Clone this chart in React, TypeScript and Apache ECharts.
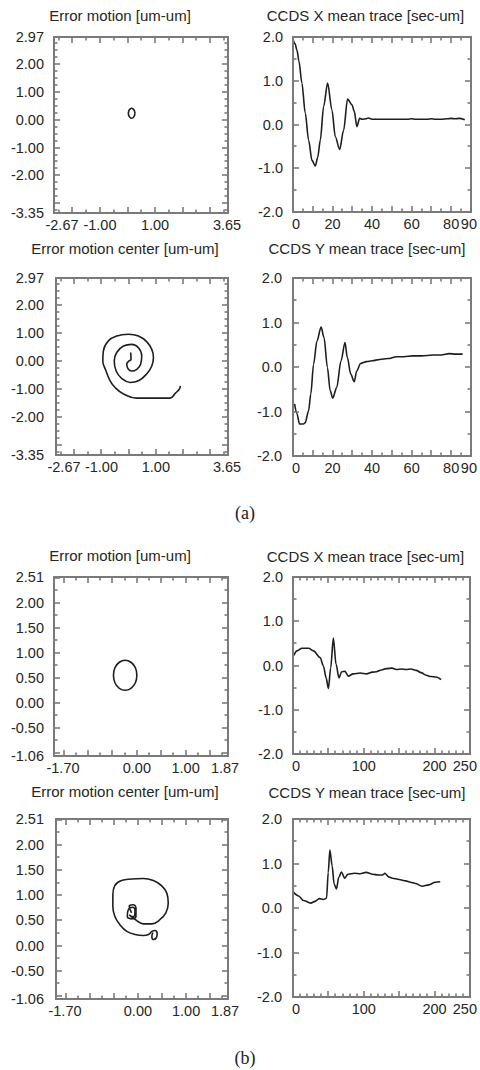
import React, { useEffect, useRef } from "react";
import * as echarts from "echarts";

const FONT = "'Liberation Sans', Arial, Helvetica, sans-serif";
const SERIF = "'Liberation Serif', 'Times New Roman', serif";
const TEXT = "#262626";
const AXIS = "#7a7a7a";
const LINE = "#1e1e1e";

// ---------- tick labels ----------
const motionATicksX = [-2.67, -1.0, 1.0, 3.65];
const motionATicksY = [2.97, 2.0, 1.0, 0.0, -1.0, -2.0, -3.35];
const motionBTicksX = [-1.7, 0.0, 1.0, 1.87];
const motionBTicksY = [2.51, 2.0, 1.5, 1.0, 0.5, 0.0, -0.5, -1.06];
const traceATicksX = [0, 20, 40, 60, 80, 90];
const traceBTicksX = [0, 100, 200, 250];
const traceTicksY = [2.0, 1.0, 0.0, -1.0, -2.0];

// ---------- titles ----------
const panelTitles = [
  "Error motion [um-um]",
  "CCDS X mean trace [sec-um]",
  "Error motion center [um-um]",
  "CCDS Y mean trace [sec-um]",
  "Error motion [um-um]",
  "CCDS X mean trace [sec-um]",
  "Error motion center [um-um]",
  "CCDS Y mean trace [sec-um]",
];
const captions = ["(a)", "(b)"];

// ---------- (a) data ----------
const aMotionX = [0.27, 0.25, 0.21, 0.15, 0.09, 0.05, 0.03, 0.05, 0.09, 0.15, 0.21, 0.25, 0.27];
const aMotionY = [0.23, 0.32, 0.38, 0.41, 0.38, 0.32, 0.23, 0.14, 0.08, 0.05, 0.08, 0.14, 0.23];

const aTraceXt = [0, 1, 2, 3, 4.5, 6.2, 7.9, 9.6, 11.3, 12.5, 13.8, 15.5, 17.5, 19.7, 21.4, 23.6, 25.6, 27.6, 29.8, 31, 32.3, 33.7, 35, 37, 38, 40, 45, 50, 55, 58, 60, 62, 65, 68, 70, 72, 75, 78, 80, 82, 84, 86.9];
const aTraceXv = [1.95, 1.85, 1.7, 1.45, 0.95, 0.26, -0.36, -0.82, -0.95, -0.75, -0.36, 0.41, 0.95, 0.33, -0.28, -0.57, -0.13, 0.58, 0.45, 0.3, -0.05, 0.14, 0.12, 0.13, 0.15, 0.12, 0.12, 0.12, 0.12, 0.12, 0.13, 0.12, 0.12, 0.12, 0.13, 0.12, 0.12, 0.13, 0.14, 0.13, 0.14, 0.11];

const aCenterX = [0.075, 0.087, -0.01, -0.07, -0.01, 0.11, 0.3, 0.44, 0.48, 0.36, 0.11, -0.19, -0.44, -0.53, -0.46, -0.26, 0.05, 0.36, 0.66, 0.85, 0.91, 0.85, 0.66, 0.36, -0.01, -0.44, -0.75, -0.93, -0.95, -0.83, -0.68, -0.5, -0.19, 0.3, 0.72, 1.52, 1.71, 1.86, 1.9];
const aCenterY = [0.31, 0.07, -0.01, -0.11, -0.29, -0.35, -0.29, -0.11, 0.19, 0.48, 0.6, 0.54, 0.31, 0.01, -0.35, -0.61, -0.76, -0.7, -0.46, -0.17, 0.13, 0.42, 0.7, 0.9, 0.96, 0.9, 0.72, 0.36, 0.01, -0.35, -0.7, -0.94, -1.17, -1.32, -1.32, -1.32, -1.15, -1.0, -0.88];

const aTraceYt = [0.8, 2.0, 3.3, 5.3, 6.2, 7.9, 9.0, 10.4, 12.1, 14.2, 15.7, 17.4, 18.8, 20.1, 22.1, 24.3, 26.3, 27.5, 29.2, 31.0, 32.2, 34.2, 37.2, 40, 43.9, 48, 52.3, 56, 60.7, 65, 70.7, 75, 79.1, 82, 85.8];
const aTraceYv = [-0.83, -1.05, -1.28, -1.28, -1.25, -0.98, -0.61, 0.06, 0.58, 0.9, 0.66, -0.01, -0.53, -0.7, -0.46, 0.14, 0.55, 0.21, -0.16, -0.33, -0.09, 0.08, 0.12, 0.14, 0.17, 0.19, 0.23, 0.23, 0.25, 0.25, 0.27, 0.27, 0.3, 0.29, 0.29];

// ---------- (b) data ----------
const bMotionX = [0.0, -0.03, -0.12, -0.24, -0.36, -0.45, -0.48, -0.45, -0.36, -0.24, -0.12, -0.03, 0.0];
const bMotionY = [0.55, 0.7, 0.81, 0.85, 0.81, 0.7, 0.55, 0.4, 0.29, 0.25, 0.29, 0.4, 0.55];

const bTraceXt = [0.9, 5.6, 12.6, 22, 29, 38.3, 43, 46.8, 50, 53.3, 57, 60.8, 65, 68.8, 73.4, 78.1, 85.1, 95, 103.9, 112, 117.9, 125, 131.9, 140, 146, 153, 160, 167, 174.1, 181, 188.1, 195, 202.2, 209.2];
const bTraceXv = [0.22, 0.33, 0.39, 0.39, 0.33, 0.18, -0.01, -0.28, -0.52, -0.05, 0.62, 0.03, -0.28, -0.14, -0.13, -0.24, -0.19, -0.17, -0.19, -0.15, -0.14, -0.1, -0.07, -0.06, -0.09, -0.08, -0.09, -0.08, -0.11, -0.16, -0.22, -0.25, -0.26, -0.32];

const bCenterX = [-0.13, -0.18, -0.1, -0.04, -0.04, -0.13, -0.22, -0.2, -0.11, -0.06, -0.1, -0.18, -0.03, 0.11, 0.29, 0.44, 0.58, 0.63, 0.6, 0.49, 0.32, 0.11, -0.13, -0.34, -0.48, -0.52, -0.52, -0.48, -0.37, -0.23, -0.06, 0.11, 0.22, 0.29, 0.35, 0.4, 0.38, 0.32, 0.29, 0.31];
const bCenterY = [0.65, 0.78, 0.81, 0.74, 0.58, 0.53, 0.58, 0.71, 0.76, 0.68, 0.57, 0.61, 0.5, 0.43, 0.43, 0.5, 0.65, 0.84, 1.04, 1.19, 1.29, 1.33, 1.32, 1.29, 1.19, 1.01, 0.78, 0.58, 0.41, 0.28, 0.22, 0.2, 0.22, 0.28, 0.3, 0.24, 0.15, 0.12, 0.18, 0.26];

const bTraceYt = [0.9, 7.9, 14.8, 25.1, 31.1, 37.2, 42.8, 47.4, 49.8, 52.1, 55.3, 58.1, 61.4, 64.7, 68.4, 73.0, 77.7, 87, 95, 103.3, 112.6, 120, 126.6, 129.8, 135, 140.5, 150, 159.2, 166, 173.1, 182.4, 191.8, 201.1, 208.1];
const bTraceYv = [0.35, 0.27, 0.17, 0.11, 0.15, 0.21, 0.19, 0.22, 0.8, 1.3, 0.95, 0.54, 0.43, 0.69, 0.81, 0.67, 0.76, 0.78, 0.77, 0.8, 0.76, 0.74, 0.74, 0.78, 0.7, 0.67, 0.64, 0.61, 0.58, 0.55, 0.49, 0.52, 0.58, 0.59];

type AxisCfg = {
  min: number;
  max: number;
  step: number;
  minor: number;
  labels: number[];
  digits: number;
  minShift?: number;
  maxShift?: number;
};

const motionAX: AxisCfg = { min: -2.67, max: 3.65, step: 1, minor: 2, labels: motionATicksX, digits: 2, minShift: 8, maxShift: -1 };
const motionAY: AxisCfg = { min: -3.35, max: 2.97, step: 1, minor: 4, labels: motionATicksY, digits: 2 };
const motionBX: AxisCfg = { min: -1.7, max: 1.87, step: 0.5, minor: 2, labels: motionBTicksX, digits: 2, minShift: 9, maxShift: -3 };
const motionBY: AxisCfg = { min: -1.06, max: 2.51, step: 0.5, minor: 2, labels: motionBTicksY, digits: 2 };
const traceAX: AxisCfg = { min: 0, max: 90, step: 10, minor: 2, labels: traceATicksX, digits: 0, minShift: 3, maxShift: -2 };
const traceBX: AxisCfg = { min: 0, max: 250, step: 50, minor: 5, labels: traceBTicksX, digits: 0, minShift: 3, maxShift: -5 };
const traceY: AxisCfg = { min: -2, max: 2, step: 1, minor: 2, labels: traceTicksY, digits: 1 };

const panels = [
  { x: motionAX, y: motionAY, xs: aMotionX, ys: aMotionY, kind: "loop", left: 54, top: 37, width: 174, height: 176, tx: 120, ty: 15.5, ym: 10 },
  { x: traceAX, y: traceY, xs: aTraceXt, ys: aTraceXv, kind: "trace", left: 293, top: 37, width: 178, height: 175, tx: 365.5, ty: 15.5, ym: 10 },
  { x: motionAX, y: motionAY, xs: aCenterX, ys: aCenterY, kind: "loop", left: 56, top: 278, width: 172, height: 177, tx: 125, ty: 248, ym: 12 },
  { x: traceAX, y: traceY, xs: aTraceYt, ys: aTraceYv, kind: "trace", left: 293, top: 278, width: 179, height: 178, tx: 367, ty: 248, ym: 11 },
  { x: motionBX, y: motionBY, xs: bMotionX, ys: bMotionY, kind: "loop", left: 54, top: 577, width: 174, height: 179, tx: 120, ty: 555, ym: 10 },
  { x: traceBX, y: traceY, xs: bTraceXt, ys: bTraceXv, kind: "trace", left: 293, top: 577, width: 178, height: 177, tx: 365.5, ty: 556, ym: 10 },
  { x: motionBX, y: motionBY, xs: bCenterX, ys: bCenterY, kind: "loop", left: 56, top: 819, width: 172, height: 180, tx: 125, ty: 791, ym: 12 },
  { x: traceBX, y: traceY, xs: bTraceYt, ys: bTraceYv, kind: "trace", left: 293, top: 819, width: 179, height: 178, tx: 367, ty: 792, ym: 11 },
];

// axis tick positions (major every step, minor every step/minor) inside [min, max]
function tickPositions(cfg: AxisCfg) {
  const majors: number[] = [];
  const minors: number[] = [];
  const sub = cfg.step / cfg.minor;
  const start = Math.ceil((cfg.min - 1e-9) / sub);
  const end = Math.floor((cfg.max + 1e-9) / sub);
  for (let k = start; k <= end; k++) {
    const v = +(k * sub).toFixed(6);
    if (Math.abs(k % cfg.minor) === 0) majors.push(v);
    else minors.push(v);
  }
  return { majors, minors };
}

function makeAxis(cfg: AxisCfg, gridIndex: number, margin: number) {
  const ls = (cfg.minShift || 0) * 2;
  const rs = Math.max(0, (cfg.maxShift || 0) * -2);
  return {
    type: "value",
    gridIndex,
    min: cfg.min,
    max: cfg.max,
    axisLine: { show: false },
    axisTick: { show: false },
    minorTick: { show: false },
    splitLine: { show: false },
    minorSplitLine: { show: false },
    axisLabel: {
      show: true,
      margin,
      color: TEXT,
      fontSize: 14.5,
      fontFamily: FONT,
      customValues: cfg.labels,
      showMinLabel: true,
      showMaxLabel: true,
      hideOverlap: false,
      formatter: (v: number) => {
        const t = v.toFixed(cfg.digits);
        if (ls && Math.abs(v - cfg.min) < 1e-6) return `{s|${t}}`;
        if (rs && Math.abs(v - cfg.max) < 1e-6) return `{e|${t}}`;
        return t;
      },
      rich: {
        s: { fontSize: 14.5, fontFamily: FONT, color: TEXT, padding: [0, 0, 0, ls] },
        e: { fontSize: 14.5, fontFamily: FONT, color: TEXT, padding: [0, rs, 0, 0] },
      },
    },
  };
}

function frameSeries(xc: AxisCfg, yc: AxisCfg, idx: number) {
  const xt = tickPositions(xc);
  const yt = tickPositions(yc);
  return {
    type: "custom",
    coordinateSystem: "cartesian2d",
    xAxisIndex: idx,
    yAxisIndex: idx,
    clip: false,
    silent: true,
    z: 3,
    data: [[xc.min, yc.min]],
    encode: { x: 0, y: 1 },
    renderItem: (_params: any, api: any) => {
      const bl = api.coord([xc.min, yc.min]);
      const tr = api.coord([xc.max, yc.max]);
      const L = Math.round(bl[0]);
      const B = Math.round(bl[1]);
      const R = Math.round(tr[0]);
      const T = Math.round(tr[1]);
      const children: any[] = [];
      const seg = (x1: number, y1: number, x2: number, y2: number) =>
        children.push({ type: "line", shape: { x1, y1, x2, y2 }, style: { stroke: "#727272", lineWidth: 1.5 } });
      const xTick = (v: number, len: number) => {
        const px = Math.round(api.coord([v, yc.min])[0]);
        seg(px, B, px, B - len);
        seg(px, T, px, T + len);
      };
      const yTick = (v: number, len: number) => {
        const py = Math.round(api.coord([xc.min, v])[1]);
        seg(L, py, L + len, py);
        seg(R, py, R - len, py);
      };
      xt.majors.forEach((v) => xTick(v, 6));
      xt.minors.forEach((v) => xTick(v, 3.5));
      yt.majors.forEach((v) => yTick(v, 6));
      yt.minors.forEach((v) => yTick(v, 3.5));
      children.push({
        type: "rect",
        shape: { x: L, y: T, width: R - L, height: B - T },
        style: { fill: "none", stroke: AXIS, lineWidth: 2 },
      });
      return { type: "group", children };
    },
  };
}

export default function App() {
  const ref = useRef<HTMLDivElement>(null);

  useEffect(() => {
    document.body.style.margin = "0";
    if (!ref.current) return;
    const chart = echarts.init(ref.current, null, { renderer: "svg", width: 480, height: 1070 });

    const grids: any[] = [];
    const xAxes: any[] = [];
    const yAxes: any[] = [];
    const series: any[] = [];
    const graphics: any[] = [];

    panels.forEach((p, i) => {
      grids.push({ left: p.left, top: p.top, width: p.width, height: p.height, show: false });
      xAxes.push(makeAxis(p.x, i, 4));
      yAxes.push(makeAxis(p.y, i, p.ym));
      series.push({
        type: "line",
        xAxisIndex: i,
        yAxisIndex: i,
        data: p.xs.map((v, k) => [v, p.ys[k]]),
        symbol: "none",
        showSymbol: false,
        smooth: p.kind === "trace" ? 0.3 : 0.45,
        smoothMonotone: p.kind === "trace" ? "x" : undefined,
        lineStyle: { color: LINE, width: 1.6 },
        z: 2,
      });
      series.push(frameSeries(p.x, p.y, i));
      graphics.push({
        type: "text",
        x: p.tx,
        y: p.ty,
        style: {
          text: panelTitles[i],
          fill: TEXT,
          font: `15px ${FONT}`,
          align: "center",
          verticalAlign: "middle",
          textAlign: "center",
          textVerticalAlign: "middle",
        },
      });
    });

    [
      { t: captions[0], x: 245, y: 513 },
      { t: captions[1], x: 245, y: 1058 },
    ].forEach((c) => {
      graphics.push({
        type: "text",
        x: c.x,
        y: c.y,
        style: {
          text: c.t,
          fill: "#222",
          font: `18px ${SERIF}`,
          align: "center",
          verticalAlign: "middle",
          textAlign: "center",
          textVerticalAlign: "middle",
        },
      });
    });

    chart.setOption({
      animation: false,
      backgroundColor: "#ffffff",
      grid: grids,
      xAxis: xAxes,
      yAxis: yAxes,
      series,
      graphic: graphics,
    });

    return () => chart.dispose();
  }, []);

  return (
    <div
      ref={ref}
      style={{ position: "absolute", left: 0, top: 0, width: 480, height: 1070, background: "#fff" }}
    />
  );
}
